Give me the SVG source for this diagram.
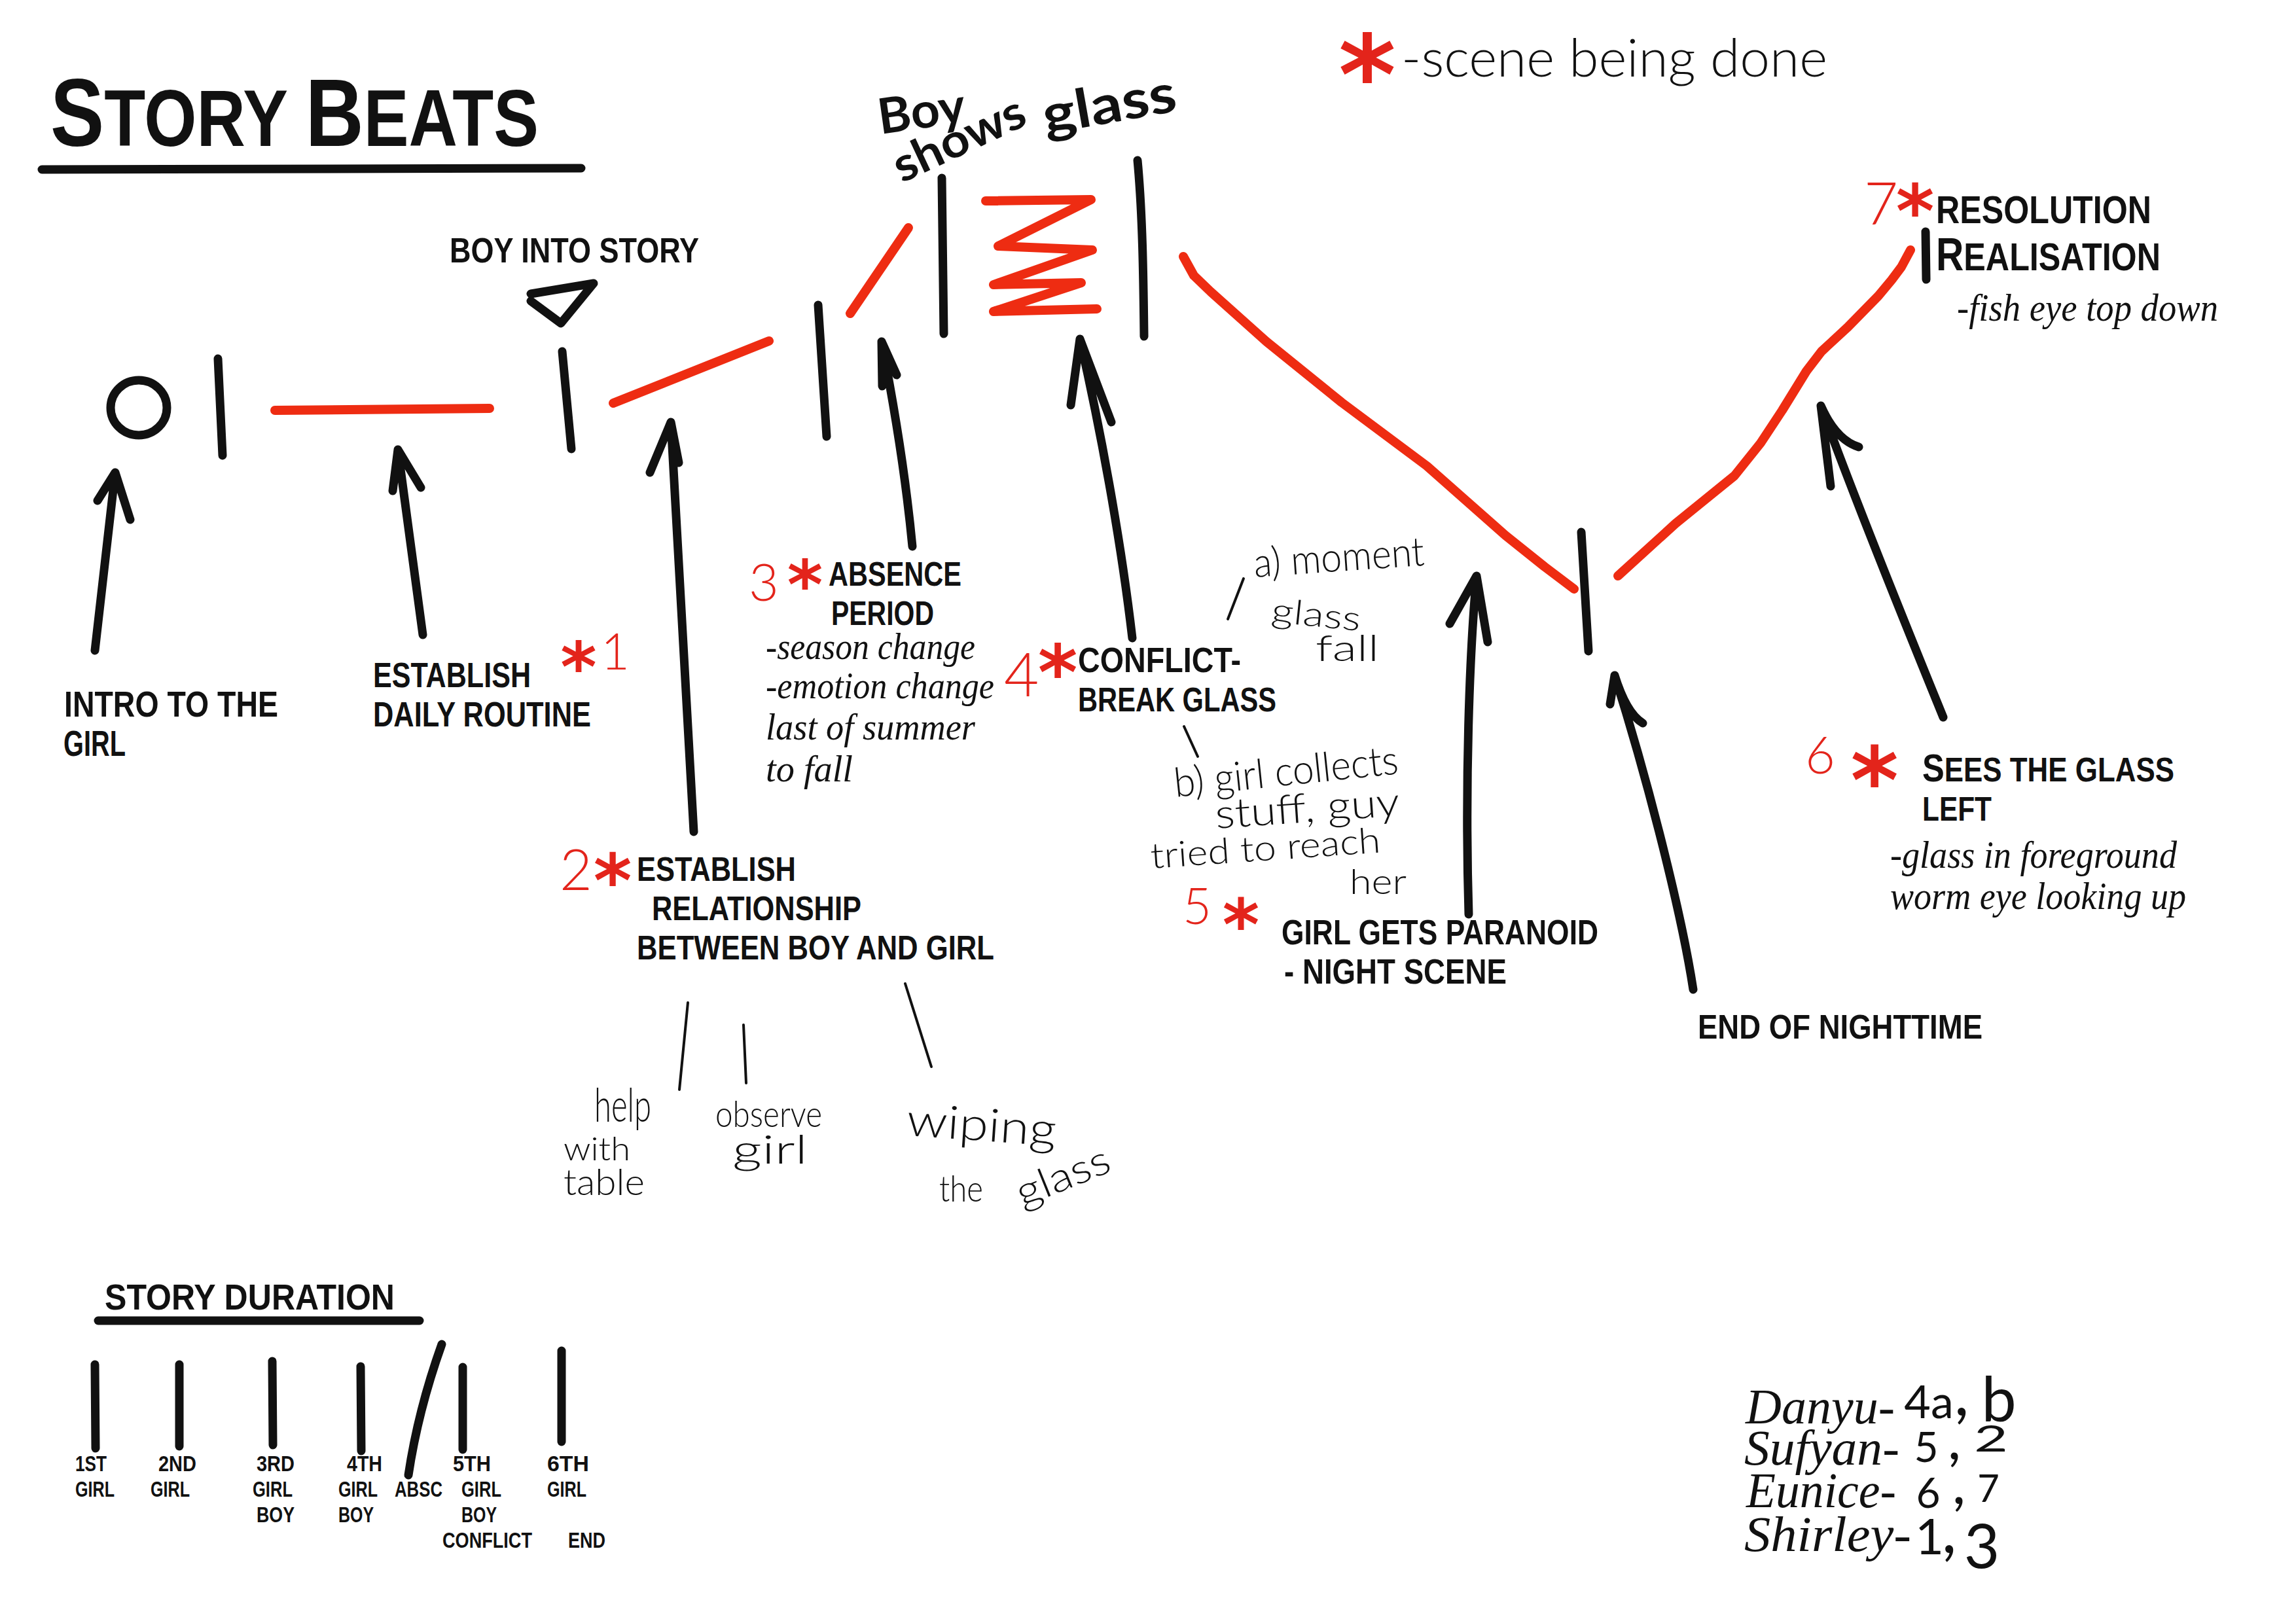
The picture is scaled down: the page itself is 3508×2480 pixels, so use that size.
<svg xmlns="http://www.w3.org/2000/svg" width="3508" height="2480" viewBox="0 0 3508 2480">
<defs>
<style>
.cap{font-family:"Liberation Sans Narrow","Liberation Sans",Arial,sans-serif;font-weight:700;fill:#111}
.it{font-family:"Liberation Serif","Times New Roman",serif;font-style:italic;fill:#111}
.hand{font-family:"Lato","Open Sans",sans-serif;font-weight:300;fill:#111}
.handb{font-family:"Lato","Open Sans",sans-serif;font-weight:700;fill:#111}
.num{font-family:"Lato","Open Sans",sans-serif;font-weight:300;fill:#e3241b}
.ast{font-family:"DejaVu Sans",sans-serif;font-weight:700;fill:#e3241b;text-anchor:middle}
.ink{stroke:#111;stroke-width:13;fill:none;stroke-linecap:round;stroke-linejoin:round}
.thin{stroke:#111;stroke-width:4;fill:none;stroke-linecap:round}
.rl{stroke:#ee2c12;stroke-width:14;fill:none;stroke-linecap:round;stroke-linejoin:round}
.dig{font-family:"Lato","Open Sans",sans-serif;font-weight:400;fill:#111;text-anchor:middle}
</style>
</defs>
<rect width="3508" height="2480" fill="#fff"/>

<g id="title">
<text class="cap" x="77" y="223" font-size="123" textLength="746" lengthAdjust="spacingAndGlyphs"><tspan font-size="147">S</tspan>TORY <tspan font-size="147">B</tspan>EATS</text>
<line class="ink" x1="64" y1="259" x2="888" y2="257" stroke-width="17"/>
</g>

<g id="legend">
<text class="ast" x="2089" y="174" font-size="168">*</text>
<text class="hand" x="2141" y="117" font-size="80" textLength="651" lengthAdjust="spacingAndGlyphs">-scene being done</text>
</g>

<g id="timeline">
<ellipse cx="212" cy="623" rx="43" ry="42" fill="none" stroke="#111" stroke-width="13"/>
<line class="ink" x1="333" y1="548" x2="340" y2="696"/>
<line class="rl" x1="420" y1="627" x2="748" y2="624"/>
<path class="ink" d="M811,449 L907,433 L857,494 L811,460"/>
<line class="ink" x1="859" y1="537" x2="873" y2="686"/>
<line class="rl" x1="937" y1="616" x2="1175" y2="521"/>
<line class="ink" x1="1250" y1="466" x2="1263" y2="667"/>
<line class="rl" x1="1388" y1="348" x2="1299" y2="479"/>
<line class="ink" x1="1439" y1="272" x2="1442" y2="510"/>
<polyline class="rl" stroke-width="21" points="1506,307 1667,305 1525,376 1669,382 1518,435 1652,432 1518,476 1676,472"/>
<path class="ink" d="M1738,245 C1746,330 1747,430 1748,514"/>
<polyline class="rl" points="1808,392 1824,421 1850,446 1935,522 2050,615 2180,712 2300,818 2360,866 2405,900"/>
<line class="ink" x1="2416" y1="813" x2="2427" y2="995"/>
<polyline class="rl" points="2472,880 2560,800 2650,727 2690,677 2723,627 2760,567 2783,537 2823,500 2870,452 2890,428 2905,408 2919,382"/>
<line class="ink" x1="2942" y1="354" x2="2943" y2="427" stroke-width="15"/>
</g>

<g id="boy-into-story">
<text class="cap" x="687" y="401" font-size="53" textLength="381" lengthAdjust="spacingAndGlyphs">BOY INTO STORY</text>
</g>

<g id="boy-shows-glass">
<text class="handb" x="1345" y="205" font-size="75" transform="rotate(-8 1345 205)" textLength="134" lengthAdjust="spacingAndGlyphs">Boy</text>
<text class="handb" x="1378" y="280" font-size="72" transform="rotate(-25 1378 280)" textLength="215" lengthAdjust="spacingAndGlyphs">shows</text>
<text class="handb" x="1598" y="205" font-size="82" transform="rotate(-10 1598 205)" textLength="206" lengthAdjust="spacingAndGlyphs">glass</text>
</g>

<g id="intro">
<text class="cap" x="98" y="1095" font-size="55" textLength="327" lengthAdjust="spacingAndGlyphs">INTRO TO THE</text>
<text class="cap" x="97" y="1155" font-size="55" textLength="95" lengthAdjust="spacingAndGlyphs">GIRL</text>
</g>

<g id="beat1">
<text class="cap" x="570" y="1050" font-size="53" textLength="241" lengthAdjust="spacingAndGlyphs">ESTABLISH</text>
<text class="cap" x="570" y="1110" font-size="53" textLength="333" lengthAdjust="spacingAndGlyphs">DAILY ROUTINE</text>
<text class="ast" x="884" y="1056" font-size="106">*</text>
<text class="num" x="918" y="1023" font-size="76">1</text>
</g>

<g id="beat2">
<text class="num" x="855" y="1360" font-size="86">2</text>
<text class="ast" x="936" y="1385" font-size="112">*</text>
<text class="cap" x="973" y="1346" font-size="52" textLength="243" lengthAdjust="spacingAndGlyphs">ESTABLISH</text>
<text class="cap" x="996" y="1406" font-size="52" textLength="320" lengthAdjust="spacingAndGlyphs">RELATIONSHIP</text>
<text class="cap" x="973" y="1466" font-size="52" textLength="546" lengthAdjust="spacingAndGlyphs">BETWEEN BOY AND GIRL</text>
</g>

<g id="beat2-notes">
<line class="thin" x1="1051" y1="1532" x2="1038" y2="1665"/>
<line class="thin" x1="1136" y1="1566" x2="1140" y2="1655"/>
<line class="thin" x1="1383" y1="1503" x2="1423" y2="1630"/>
<text class="hand" x="908" y="1714" font-size="70" textLength="87" lengthAdjust="spacingAndGlyphs">help</text>
<text class="hand" x="861" y="1773" font-size="50" textLength="102" lengthAdjust="spacingAndGlyphs">with</text>
<text class="hand" x="861" y="1826" font-size="56" textLength="124" lengthAdjust="spacingAndGlyphs">table</text>
<text class="hand" x="1093" y="1722" font-size="56" textLength="163" lengthAdjust="spacingAndGlyphs">observe</text>
<text class="hand" x="1119" y="1778" font-size="62" textLength="115" lengthAdjust="spacingAndGlyphs">girl</text>
<text class="hand" x="1384" y="1735" font-size="70" transform="rotate(4 1384 1735)" textLength="229" lengthAdjust="spacingAndGlyphs">wiping</text>
<text class="hand" x="1435" y="1836" font-size="56" textLength="67" lengthAdjust="spacingAndGlyphs">the</text>
<text class="hand" x="1562" y="1845" font-size="62" transform="rotate(-22 1562 1845)" textLength="150" lengthAdjust="spacingAndGlyphs">glass</text>
</g>

<g id="beat3">
<text class="num" x="1144" y="918" font-size="79">3</text>
<text class="ast" x="1230" y="930" font-size="104">*</text>
<text class="cap" x="1266" y="895" font-size="52" textLength="203" lengthAdjust="spacingAndGlyphs">ABSENCE</text>
<text class="cap" x="1270" y="955" font-size="52" textLength="157" lengthAdjust="spacingAndGlyphs">PERIOD</text>
<text class="it" x="1170" y="1007" font-size="56" textLength="320" lengthAdjust="spacingAndGlyphs">-season change</text>
<text class="it" x="1170" y="1067" font-size="56" textLength="349" lengthAdjust="spacingAndGlyphs">-emotion change</text>
<text class="it" x="1170" y="1130" font-size="56" textLength="320" lengthAdjust="spacingAndGlyphs">last of summer</text>
<text class="it" x="1170" y="1194" font-size="56" textLength="133" lengthAdjust="spacingAndGlyphs">to fall</text>
</g>

<g id="beat4">
<text class="num" x="1534" y="1064" font-size="92">4</text>
<text class="ast" x="1616" y="1068" font-size="116">*</text>
<text class="cap" x="1647" y="1027" font-size="54" textLength="249" lengthAdjust="spacingAndGlyphs">CONFLICT-</text>
<text class="cap" x="1647" y="1087" font-size="52" textLength="303" lengthAdjust="spacingAndGlyphs">BREAK GLASS</text>
<line class="thin" x1="1900" y1="884" x2="1876" y2="946"/>
<text class="hand" x="1917" y="882" font-size="62" transform="rotate(-4 1917 882)" textLength="261" lengthAdjust="spacingAndGlyphs">a) moment</text>
<text class="hand" x="1941" y="950" font-size="52" transform="rotate(6 1941 950)" textLength="137" lengthAdjust="spacingAndGlyphs">glass</text>
<text class="hand" x="2010" y="1010" font-size="56" textLength="97" lengthAdjust="spacingAndGlyphs">fall</text>
<line class="thin" x1="1809" y1="1110" x2="1830" y2="1156"/>
<text class="hand" x="1796" y="1218" font-size="62" transform="rotate(-6 1796 1218)" textLength="344" lengthAdjust="spacingAndGlyphs">b) girl collects</text>
<text class="hand" x="1858" y="1266" font-size="62" transform="rotate(-4 1858 1266)" textLength="282" lengthAdjust="spacingAndGlyphs">stuff, guy</text>
<text class="hand" x="1759" y="1327" font-size="54" transform="rotate(-4 1759 1327)" textLength="352" lengthAdjust="spacingAndGlyphs">tried to reach</text>
<text class="hand" x="2062" y="1366" font-size="54" textLength="87" lengthAdjust="spacingAndGlyphs">her</text>
</g>

<g id="beat5">
<text class="num" x="1807" y="1412" font-size="76">5</text>
<text class="ast" x="1896" y="1451" font-size="108">*</text>
<text class="cap" x="1958" y="1443" font-size="54" textLength="484" lengthAdjust="spacingAndGlyphs">GIRL GETS PARANOID</text>
<text class="cap" x="1962" y="1503" font-size="54" textLength="340" lengthAdjust="spacingAndGlyphs">- NIGHT SCENE</text>
</g>

<g id="end-of-nighttime">
<text class="cap" x="2594" y="1587" font-size="52" textLength="435" lengthAdjust="spacingAndGlyphs">END OF NIGHTTIME</text>
</g>

<g id="beat6">
<text class="num" x="2758" y="1182" font-size="79">6</text>
<text class="ast" x="2864" y="1242" font-size="140">*</text>
<text class="cap" x="2937" y="1194" font-size="52" textLength="385" lengthAdjust="spacingAndGlyphs"><tspan font-size="60">S</tspan>EES THE GLASS</text>
<text class="cap" x="2937" y="1254" font-size="52" textLength="106" lengthAdjust="spacingAndGlyphs">LEFT</text>
<text class="it" x="2888" y="1326" font-size="60" textLength="438" lengthAdjust="spacingAndGlyphs">-glass in foreground</text>
<text class="it" x="2888" y="1389" font-size="60" textLength="452" lengthAdjust="spacingAndGlyphs">worm eye looking up</text>
</g>

<g id="beat7">
<text class="num" x="2848" y="343" font-size="90">7</text>
<text class="ast" x="2926" y="362" font-size="112">*</text>
<text class="cap" x="2958" y="341" font-size="60" textLength="329" lengthAdjust="spacingAndGlyphs">RESOLUTION</text>
<text class="cap" x="2958" y="413" font-size="60" textLength="343" lengthAdjust="spacingAndGlyphs"><tspan font-size="70">R</tspan>EALISATION</text>
<text class="it" x="2990" y="490" font-size="60" textLength="399" lengthAdjust="spacingAndGlyphs">-fish eye top down</text>
</g>

<g id="connectors">
<path class="ink" d="M145,994 L176,722 M149,765 L176,722 L199,794"/>
<path class="ink" d="M646,970 L608,687 M600,750 L608,687 L643,745"/>
<path class="ink" d="M1060,1271 C1045,1000 1035,800 1025,645 M993,722 L1025,645 L1037,707"/>
<path class="ink" d="M1394,835 C1385,740 1370,640 1347,522 M1348,590 L1347,522 L1370,573"/>
<path class="ink" d="M1730,975 C1712,820 1680,650 1650,518 M1636,619 L1650,518 L1698,645"/>
<path class="ink" d="M2244,1397 C2238,1200 2245,1000 2256,880 M2215,953 L2256,880 L2273,981"/>
<path class="ink" d="M2587,1512 C2570,1400 2520,1200 2467,1032 M2460,1076 L2467,1032 Q2485,1090 2510,1105"/>
<path class="ink" d="M2969,1096 C2930,1000 2840,780 2782,620 M2797,743 L2782,620 Q2805,672 2840,683"/>
</g>

<g id="story-duration">
<text class="cap" x="160" y="2001" font-size="56" textLength="443" lengthAdjust="spacingAndGlyphs">STORY DURATION</text>
<line class="ink" x1="150" y1="2018" x2="641" y2="2018" stroke-width="11"/>
<g class="ticks">
<line class="ink" x1="145" y1="2085" x2="146" y2="2213" stroke-width="9"/>
<line class="ink" x1="274" y1="2085" x2="274" y2="2210" stroke-width="9"/>
<line class="ink" x1="416" y1="2080" x2="417" y2="2208" stroke-width="11"/>
<line class="ink" x1="551" y1="2088" x2="552" y2="2217" stroke-width="9"/>
<path class="ink" d="M675,2054 C655,2110 635,2180 624,2254" stroke-width="8"/>
<line class="ink" x1="707" y1="2089" x2="707" y2="2215" stroke-width="9"/>
<line class="ink" x1="858" y1="2064" x2="858" y2="2203" stroke-width="9"/>
</g>
<g font-size="33">
<text class="cap" x="115" y="2248" textLength="48" lengthAdjust="spacingAndGlyphs">1ST</text>
<text class="cap" x="242" y="2248" textLength="58" lengthAdjust="spacingAndGlyphs">2ND</text>
<text class="cap" x="392" y="2248" textLength="58" lengthAdjust="spacingAndGlyphs">3RD</text>
<text class="cap" x="530" y="2248" textLength="54" lengthAdjust="spacingAndGlyphs">4TH</text>
<text class="cap" x="692" y="2248" textLength="58" lengthAdjust="spacingAndGlyphs">5TH</text>
<text class="cap" x="836" y="2248" textLength="64" lengthAdjust="spacingAndGlyphs">6TH</text>
<text class="cap" x="115" y="2287" textLength="60" lengthAdjust="spacingAndGlyphs">GIRL</text>
<text class="cap" x="230" y="2287" textLength="60" lengthAdjust="spacingAndGlyphs">GIRL</text>
<text class="cap" x="386" y="2287" textLength="61" lengthAdjust="spacingAndGlyphs">GIRL</text>
<text class="cap" x="517" y="2287" textLength="60" lengthAdjust="spacingAndGlyphs">GIRL</text>
<text class="cap" x="603" y="2287" textLength="73" lengthAdjust="spacingAndGlyphs">ABSC</text>
<text class="cap" x="705" y="2287" textLength="61" lengthAdjust="spacingAndGlyphs">GIRL</text>
<text class="cap" x="836" y="2287" textLength="60" lengthAdjust="spacingAndGlyphs">GIRL</text>
<text class="cap" x="392" y="2326" textLength="58" lengthAdjust="spacingAndGlyphs">BOY</text>
<text class="cap" x="517" y="2326" textLength="54" lengthAdjust="spacingAndGlyphs">BOY</text>
<text class="cap" x="705" y="2326" textLength="54" lengthAdjust="spacingAndGlyphs">BOY</text>
<text class="cap" x="676" y="2365" textLength="137" lengthAdjust="spacingAndGlyphs">CONFLICT</text>
<text class="cap" x="868" y="2365" textLength="57" lengthAdjust="spacingAndGlyphs">END</text>
</g>
</g>

<g id="team">
<text class="it" x="2667" y="2175" font-size="76" textLength="228" lengthAdjust="spacingAndGlyphs">Danyu-</text>
<text class="it" x="2665" y="2238" font-size="76" textLength="237" lengthAdjust="spacingAndGlyphs">Sufyan-</text>
<text class="it" x="2668" y="2303" font-size="76" textLength="229" lengthAdjust="spacingAndGlyphs">Eunice-</text>
<text class="it" x="2665" y="2370" font-size="76" textLength="255" lengthAdjust="spacingAndGlyphs">Shirley-</text>
<text class="dig" x="2947" y="2167" font-size="70">4a</text>
<text class="dig" x="2997" y="2163" font-size="100">,</text>
<text class="dig" x="3054" y="2172" font-size="95">b</text>
<text class="dig" x="2943" y="2234" font-size="64">5</text>
<text class="dig" x="2986" y="2230" font-size="90">,</text>
<text class="dig" x="3042" y="2218" font-size="56" textLength="52" lengthAdjust="spacingAndGlyphs">2</text>
<text class="dig" x="2946" y="2304" font-size="64">6</text>
<text class="dig" x="2993" y="2298" font-size="90">,</text>
<text class="dig" x="3038" y="2295" font-size="58">7</text>
<text class="dig" x="2948" y="2375" font-size="76">1</text>
<text class="dig" x="2978" y="2373" font-size="100">,</text>
<text class="dig" x="3028" y="2396" font-size="94">3</text>
</g>
</svg>
